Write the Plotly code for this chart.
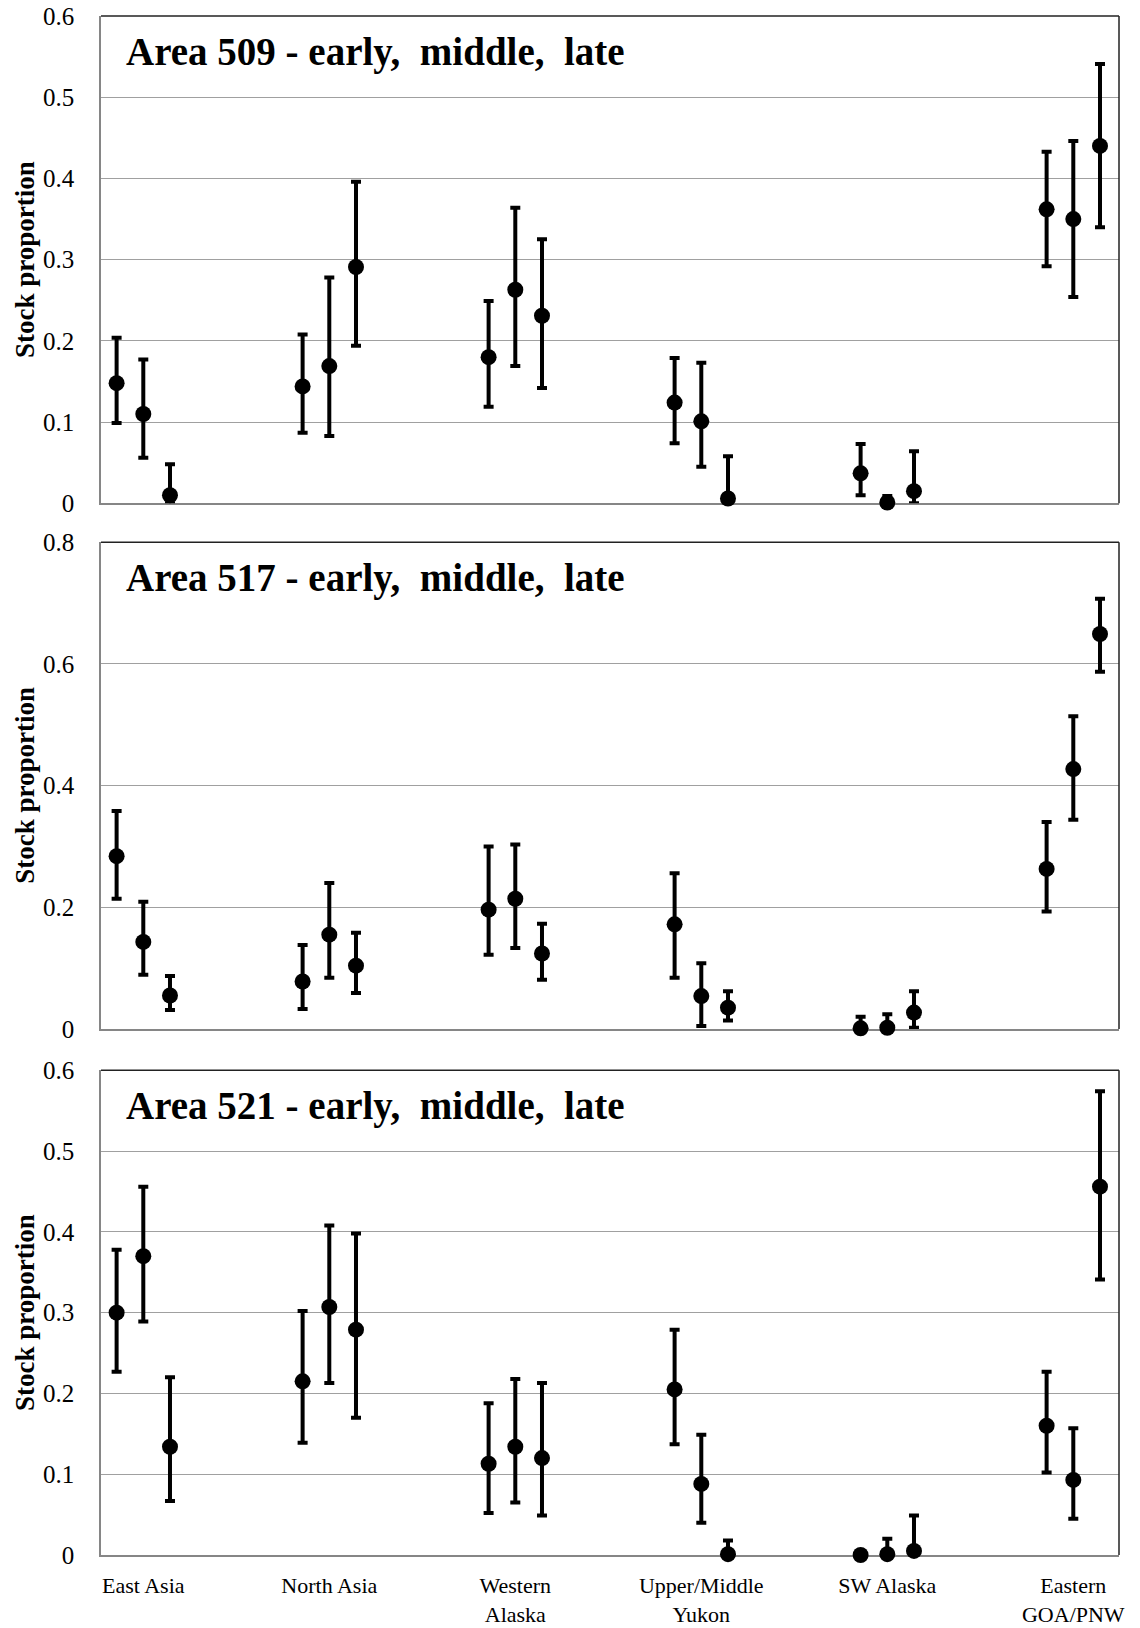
import plotly.graph_objects as go

# ---------------- data ----------------
categories = ["East Asia", "North Asia", "Western<br>Alaska", "Upper/Middle<br>Yukon",
              "SW Alaska", "Eastern<br>GOA/PNW"]
periods = ["early", "middle", "late"]

# Area 509
a509_early = [0.148, 0.144, 0.180, 0.124, 0.037, 0.362]
a509_early_lo = [0.099, 0.087, 0.119, 0.074, 0.010, 0.292]
a509_early_hi = [0.204, 0.208, 0.249, 0.179, 0.073, 0.433]
a509_middle = [0.110, 0.169, 0.263, 0.101, 0.001, 0.350]
a509_middle_lo = [0.056, 0.083, 0.169, 0.045, 0.000, 0.254]
a509_middle_hi = [0.177, 0.278, 0.364, 0.173, 0.009, 0.446]
a509_late = [0.010, 0.291, 0.231, 0.006, 0.015, 0.440]
a509_late_lo = [0.000, 0.194, 0.142, 0.000, 0.000, 0.340]
a509_late_hi = [0.048, 0.396, 0.325, 0.058, 0.064, 0.541]

# Area 517
a517_early = [0.284, 0.078, 0.196, 0.172, 0.001, 0.263]
a517_early_lo = [0.214, 0.033, 0.122, 0.084, 0.000, 0.193]
a517_early_hi = [0.358, 0.138, 0.300, 0.256, 0.020, 0.340]
a517_middle = [0.143, 0.155, 0.214, 0.054, 0.002, 0.427]
a517_middle_lo = [0.089, 0.084, 0.133, 0.005, 0.000, 0.344]
a517_middle_hi = [0.209, 0.240, 0.303, 0.108, 0.024, 0.514]
a517_late = [0.055, 0.104, 0.124, 0.035, 0.027, 0.649]
a517_late_lo = [0.031, 0.059, 0.081, 0.014, 0.002, 0.587]
a517_late_hi = [0.087, 0.158, 0.173, 0.062, 0.062, 0.707]

# Area 521
a521_early = [0.300, 0.215, 0.113, 0.205, 0.000, 0.160]
a521_early_lo = [0.227, 0.139, 0.052, 0.137, 0.000, 0.102]
a521_early_hi = [0.378, 0.302, 0.188, 0.279, 0.000, 0.227]
a521_middle = [0.370, 0.307, 0.134, 0.088, 0.001, 0.093]
a521_middle_lo = [0.289, 0.213, 0.065, 0.040, 0.000, 0.045]
a521_middle_hi = [0.456, 0.408, 0.218, 0.149, 0.020, 0.157]
a521_late = [0.134, 0.279, 0.120, 0.001, 0.005, 0.456]
a521_late_lo = [0.067, 0.170, 0.049, 0.000, 0.000, 0.341]
a521_late_hi = [0.220, 0.398, 0.213, 0.018, 0.049, 0.574]

panel_titles = ["Area 509 - early,&nbsp; middle,&nbsp; late",
                "Area 517 - early,&nbsp; middle,&nbsp; late",
                "Area 521 - early,&nbsp; middle,&nbsp; late"]
y_max = [0.6, 0.8, 0.6]
y_step = [0.1, 0.2, 0.1]

panels = [
    [(a509_early, a509_early_lo, a509_early_hi), (a509_middle, a509_middle_lo, a509_middle_hi),
     (a509_late, a509_late_lo, a509_late_hi)],
    [(a517_early, a517_early_lo, a517_early_hi), (a517_middle, a517_middle_lo, a517_middle_hi),
     (a517_late, a517_late_lo, a517_late_hi)],
    [(a521_early, a521_early_lo, a521_early_hi), (a521_middle, a521_middle_lo, a521_middle_hi),
     (a521_late, a521_late_lo, a521_late_hi)],
]

# ---------------- layout geometry ----------------
W, H = 1140, 1628
left, right = 100.7, 1118.7
top, bottom = 16.0, 1555.5
panel_px = [(16.0, 503.5), (542.3, 1029.3), (1070.7, 1555.5)]
plot_h = bottom - top

def dom(p):
    return [1 - (p[1] - top) / plot_h, 1 - (p[0] - top) / plot_h]

offsets = [-0.1435, 0.0, 0.1435]
FONT = "Liberation Serif, Times New Roman, serif"
GRID = "#a0a0a0"
AXIS = "#868686"

fig = go.Figure()
for pi, series in enumerate(panels):
    xa = "x" if pi == 0 else f"x{pi+1}"
    ya = "y" if pi == 0 else f"y{pi+1}"
    for si, (est, lo, hi) in enumerate(series):
        xs = [i + offsets[si] for i in range(len(categories))]
        fig.add_trace(go.Scatter(
            x=xs, y=est, mode="markers", xaxis=xa, yaxis=ya,
            name=periods[si], showlegend=False, cliponaxis=False,
            marker=dict(color="black", size=16, symbol="circle"),
            error_y=dict(type="data", symmetric=False,
                         array=[h - e for h, e in zip(hi, est)],
                         arrayminus=[e - l for e, l in zip(est, lo)],
                         color="black", thickness=4, width=5),
        ))

layout = dict(
    width=W, height=H, plot_bgcolor="white", paper_bgcolor="white",
    margin=dict(l=left, r=W - right, t=top, b=H - bottom, pad=0, autoexpand=False),
    font=dict(family=FONT, color="black"),
    showlegend=False,
)
annotations = []
shapes = []
for pi in range(3):
    sfx = "" if pi == 0 else str(pi + 1)
    nt = int(round(y_max[pi] / y_step[pi]))
    tickvals = [round(k * y_step[pi], 2) for k in range(nt + 1)]
    layout["xaxis" + sfx] = dict(
        domain=[0, 1], anchor="y" + sfx, range=[-0.2274, 5.2457], automargin=False,
        showgrid=False, zeroline=False, showline=True, linecolor=AXIS, linewidth=1.5,
        ticks="", layer="below traces",
        tickvals=list(range(len(categories))), ticktext=categories,
        showticklabels=(pi == 2), tickfont=dict(family=FONT, size=22, color="black"),
        ticklabelstandoff=10,
    )
    layout["yaxis" + sfx] = dict(
        domain=dom(panel_px[pi]), anchor="x" + sfx, range=[0, y_max[pi]], automargin=False,
        tickvals=tickvals, showgrid=True, gridcolor=GRID, gridwidth=1.3,
        zeroline=False, showline=True, linecolor=AXIS, linewidth=1.5,
        ticks="", layer="below traces",
        tickfont=dict(family=FONT, size=25, color="black"), ticklabelstandoff=20,
    )
    xd = "x" + sfx + " domain"
    yd = "y" + sfx + " domain"
    shapes.append(dict(type="line", xref=xd, yref=yd, x0=0, x1=1, y0=1, y1=1,
                       line=dict(color="#222222", width=1.5)))
    shapes.append(dict(type="line", xref=xd, yref=yd, x0=1, x1=1, y0=0, y1=1,
                       line=dict(color="#222222", width=1.5)))
    ph = panel_px[pi][1] - panel_px[pi][0]
    annotations.append(dict(
        text="<b>" + panel_titles[pi] + "</b>", xref=xd, yref=yd,
        x=(123.5 - left) / (right - left), y=1 - 36 / ph, xanchor="left", yanchor="middle",
        showarrow=False, font=dict(family=FONT, size=39, color="black"),
    ))
    annotations.append(dict(
        text="<b>Stock proportion</b>", xref="paper", yref=yd,
        x=(24 - left) / (right - left), y=0.5, xanchor="center", yanchor="middle",
        textangle=-90, showarrow=False, font=dict(family=FONT, size=27, color="black"),
    ))
layout["annotations"] = annotations
layout["shapes"] = shapes
fig.update_layout(**layout)

fig.write_html("out.html")
